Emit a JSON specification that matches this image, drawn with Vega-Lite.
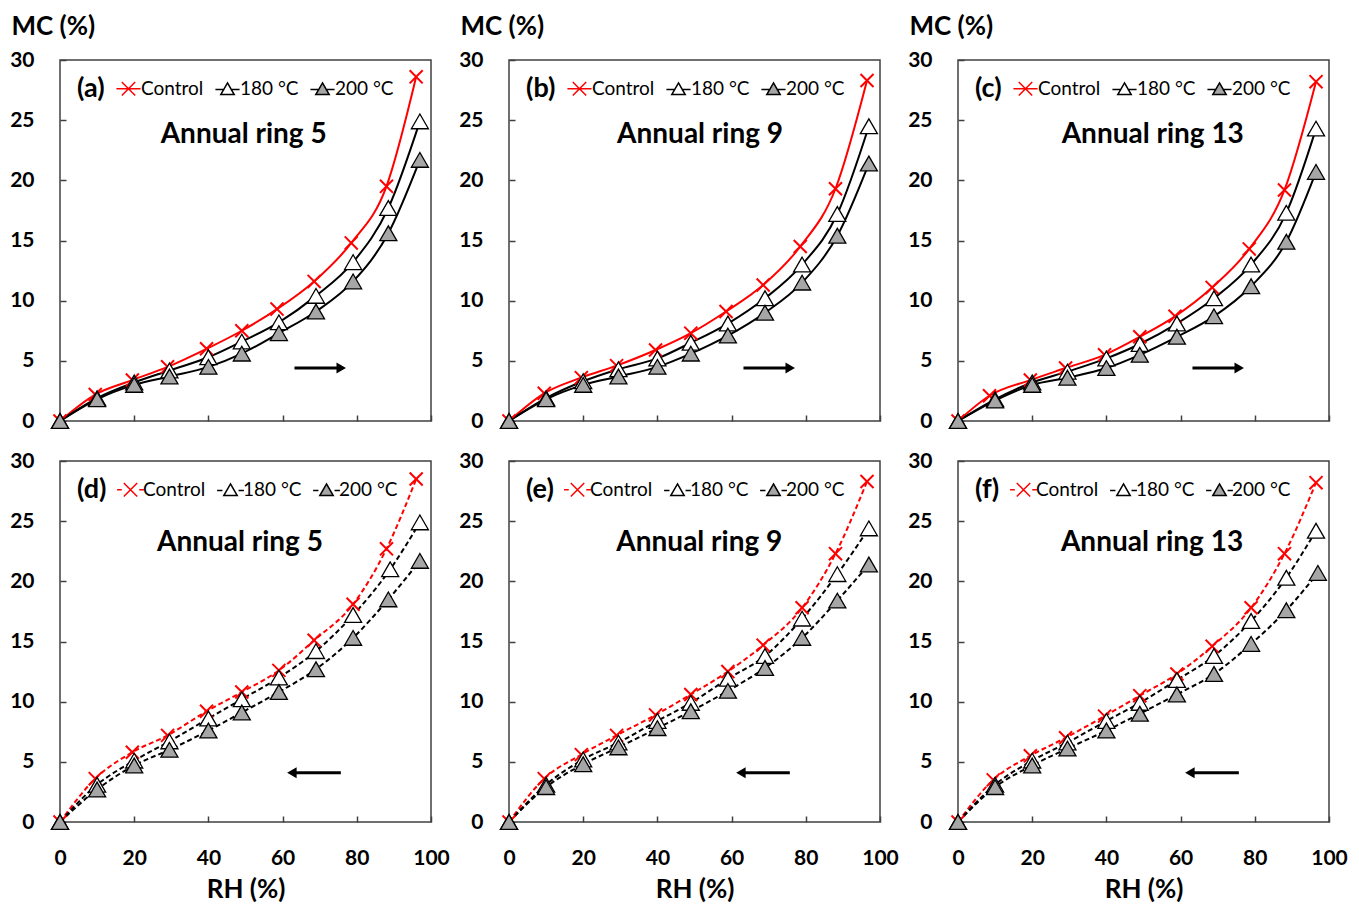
{
  "$schema": "https://vega.github.io/schema/vega-lite/v6.json",
  "padding": {"left": 8, "top": 12, "right": 5, "bottom": 5},
  "background": "white",
  "data": {"values": [
    {"panel":"a","series":"Control","rh":0,"mc":0},{"panel":"a","series":"Control","rh":9.5,"mc":2.2},{"panel":"a","series":"Control","rh":19.5,"mc":3.4},{"panel":"a","series":"Control","rh":29,"mc":4.5},{"panel":"a","series":"Control","rh":39.5,"mc":6.0},{"panel":"a","series":"Control","rh":49,"mc":7.5},{"panel":"a","series":"Control","rh":58.5,"mc":9.3},{"panel":"a","series":"Control","rh":68.5,"mc":11.6},{"panel":"a","series":"Control","rh":78.5,"mc":14.8},{"panel":"a","series":"Control","rh":88,"mc":19.5},{"panel":"a","series":"Control","rh":96,"mc":28.6},
    {"panel":"a","series":"180 °C","rh":0,"mc":0},{"panel":"a","series":"180 °C","rh":10,"mc":1.9},{"panel":"a","series":"180 °C","rh":20,"mc":3.2},{"panel":"a","series":"180 °C","rh":29.5,"mc":4.2},{"panel":"a","series":"180 °C","rh":40,"mc":5.3},{"panel":"a","series":"180 °C","rh":49,"mc":6.6},{"panel":"a","series":"180 °C","rh":59,"mc":8.2},{"panel":"a","series":"180 °C","rh":69,"mc":10.4},{"panel":"a","series":"180 °C","rh":79,"mc":13.2},{"panel":"a","series":"180 °C","rh":88.5,"mc":17.7},{"panel":"a","series":"180 °C","rh":97,"mc":24.9},
    {"panel":"a","series":"200 °C","rh":0,"mc":0},{"panel":"a","series":"200 °C","rh":10,"mc":1.8},{"panel":"a","series":"200 °C","rh":20,"mc":3.0},{"panel":"a","series":"200 °C","rh":29.5,"mc":3.7},{"panel":"a","series":"200 °C","rh":40,"mc":4.5},{"panel":"a","series":"200 °C","rh":49,"mc":5.6},{"panel":"a","series":"200 °C","rh":59,"mc":7.3},{"panel":"a","series":"200 °C","rh":69,"mc":9.1},{"panel":"a","series":"200 °C","rh":79,"mc":11.6},{"panel":"a","series":"200 °C","rh":88.5,"mc":15.6},{"panel":"a","series":"200 °C","rh":97,"mc":21.7},

    {"panel":"b","series":"Control","rh":0,"mc":0},{"panel":"b","series":"Control","rh":9.5,"mc":2.3},{"panel":"b","series":"Control","rh":19.5,"mc":3.6},{"panel":"b","series":"Control","rh":29,"mc":4.6},{"panel":"b","series":"Control","rh":39.5,"mc":5.9},{"panel":"b","series":"Control","rh":49,"mc":7.3},{"panel":"b","series":"Control","rh":58.5,"mc":9.1},{"panel":"b","series":"Control","rh":68.5,"mc":11.3},{"panel":"b","series":"Control","rh":78.5,"mc":14.5},{"panel":"b","series":"Control","rh":88,"mc":19.3},{"panel":"b","series":"Control","rh":96.5,"mc":28.3},
    {"panel":"b","series":"180 °C","rh":0,"mc":0},{"panel":"b","series":"180 °C","rh":10,"mc":1.9},{"panel":"b","series":"180 °C","rh":20,"mc":3.3},{"panel":"b","series":"180 °C","rh":29.5,"mc":4.3},{"panel":"b","series":"180 °C","rh":40,"mc":5.2},{"panel":"b","series":"180 °C","rh":49,"mc":6.5},{"panel":"b","series":"180 °C","rh":59,"mc":8.1},{"panel":"b","series":"180 °C","rh":69,"mc":10.2},{"panel":"b","series":"180 °C","rh":79,"mc":13.0},{"panel":"b","series":"180 °C","rh":88.5,"mc":17.2},{"panel":"b","series":"180 °C","rh":97,"mc":24.5},
    {"panel":"b","series":"200 °C","rh":0,"mc":0},{"panel":"b","series":"200 °C","rh":10,"mc":1.8},{"panel":"b","series":"200 °C","rh":20,"mc":3.0},{"panel":"b","series":"200 °C","rh":29.5,"mc":3.7},{"panel":"b","series":"200 °C","rh":40,"mc":4.5},{"panel":"b","series":"200 °C","rh":49,"mc":5.6},{"panel":"b","series":"200 °C","rh":59,"mc":7.1},{"panel":"b","series":"200 °C","rh":69,"mc":9.0},{"panel":"b","series":"200 °C","rh":79,"mc":11.5},{"panel":"b","series":"200 °C","rh":88.5,"mc":15.4},{"panel":"b","series":"200 °C","rh":97,"mc":21.4},

    {"panel":"c","series":"Control","rh":0,"mc":0},{"panel":"c","series":"Control","rh":8.5,"mc":2.1},{"panel":"c","series":"Control","rh":19.5,"mc":3.4},{"panel":"c","series":"Control","rh":29,"mc":4.4},{"panel":"c","series":"Control","rh":39.5,"mc":5.5},{"panel":"c","series":"Control","rh":49,"mc":7.0},{"panel":"c","series":"Control","rh":58.5,"mc":8.7},{"panel":"c","series":"Control","rh":68.5,"mc":11.1},{"panel":"c","series":"Control","rh":78.5,"mc":14.3},{"panel":"c","series":"Control","rh":88,"mc":19.2},{"panel":"c","series":"Control","rh":96.5,"mc":28.2},
    {"panel":"c","series":"180 °C","rh":0,"mc":0},{"panel":"c","series":"180 °C","rh":10,"mc":1.8},{"panel":"c","series":"180 °C","rh":20,"mc":3.2},{"panel":"c","series":"180 °C","rh":29.5,"mc":4.1},{"panel":"c","series":"180 °C","rh":40,"mc":5.2},{"panel":"c","series":"180 °C","rh":49,"mc":6.4},{"panel":"c","series":"180 °C","rh":59,"mc":8.1},{"panel":"c","series":"180 °C","rh":69,"mc":10.2},{"panel":"c","series":"180 °C","rh":79,"mc":13.0},{"panel":"c","series":"180 °C","rh":88.5,"mc":17.3},{"panel":"c","series":"180 °C","rh":96.5,"mc":24.3},
    {"panel":"c","series":"200 °C","rh":0,"mc":0},{"panel":"c","series":"200 °C","rh":10,"mc":1.7},{"panel":"c","series":"200 °C","rh":20,"mc":3.0},{"panel":"c","series":"200 °C","rh":29.5,"mc":3.6},{"panel":"c","series":"200 °C","rh":40,"mc":4.4},{"panel":"c","series":"200 °C","rh":49,"mc":5.5},{"panel":"c","series":"200 °C","rh":59,"mc":7.0},{"panel":"c","series":"200 °C","rh":69,"mc":8.7},{"panel":"c","series":"200 °C","rh":79,"mc":11.2},{"panel":"c","series":"200 °C","rh":88.5,"mc":14.9},{"panel":"c","series":"200 °C","rh":96.5,"mc":20.7},

    {"panel":"d","series":"Control","rh":0,"mc":0},{"panel":"d","series":"Control","rh":9.5,"mc":3.6},{"panel":"d","series":"Control","rh":19.5,"mc":5.8},{"panel":"d","series":"Control","rh":29,"mc":7.2},{"panel":"d","series":"Control","rh":39.5,"mc":9.2},{"panel":"d","series":"Control","rh":49,"mc":10.8},{"panel":"d","series":"Control","rh":59,"mc":12.6},{"panel":"d","series":"Control","rh":68.5,"mc":15.1},{"panel":"d","series":"Control","rh":79,"mc":18.1},{"panel":"d","series":"Control","rh":88,"mc":22.7},{"panel":"d","series":"Control","rh":96,"mc":28.5},
    {"panel":"d","series":"180 °C","rh":0,"mc":0},{"panel":"d","series":"180 °C","rh":10,"mc":3.1},{"panel":"d","series":"180 °C","rh":20,"mc":5.1},{"panel":"d","series":"180 °C","rh":29.5,"mc":6.7},{"panel":"d","series":"180 °C","rh":40,"mc":8.6},{"panel":"d","series":"180 °C","rh":49,"mc":10.2},{"panel":"d","series":"180 °C","rh":59,"mc":12.0},{"panel":"d","series":"180 °C","rh":69,"mc":14.2},{"panel":"d","series":"180 °C","rh":79,"mc":17.2},{"panel":"d","series":"180 °C","rh":89,"mc":21.0},{"panel":"d","series":"180 °C","rh":97,"mc":24.9},
    {"panel":"d","series":"200 °C","rh":0,"mc":0},{"panel":"d","series":"200 °C","rh":10,"mc":2.7},{"panel":"d","series":"200 °C","rh":20,"mc":4.7},{"panel":"d","series":"200 °C","rh":29.5,"mc":6.0},{"panel":"d","series":"200 °C","rh":40,"mc":7.6},{"panel":"d","series":"200 °C","rh":49,"mc":9.1},{"panel":"d","series":"200 °C","rh":59,"mc":10.8},{"panel":"d","series":"200 °C","rh":69,"mc":12.7},{"panel":"d","series":"200 °C","rh":79,"mc":15.3},{"panel":"d","series":"200 °C","rh":88.5,"mc":18.5},{"panel":"d","series":"200 °C","rh":97,"mc":21.7},

    {"panel":"e","series":"Control","rh":0,"mc":0},{"panel":"e","series":"Control","rh":9.5,"mc":3.6},{"panel":"e","series":"Control","rh":19.5,"mc":5.6},{"panel":"e","series":"Control","rh":29,"mc":7.2},{"panel":"e","series":"Control","rh":39.5,"mc":8.9},{"panel":"e","series":"Control","rh":49,"mc":10.6},{"panel":"e","series":"Control","rh":59,"mc":12.5},{"panel":"e","series":"Control","rh":68.5,"mc":14.7},{"panel":"e","series":"Control","rh":79,"mc":17.8},{"panel":"e","series":"Control","rh":88,"mc":22.3},{"panel":"e","series":"Control","rh":96.5,"mc":28.3},
    {"panel":"e","series":"180 °C","rh":0,"mc":0},{"panel":"e","series":"180 °C","rh":10,"mc":3.1},{"panel":"e","series":"180 °C","rh":20,"mc":5.2},{"panel":"e","series":"180 °C","rh":29.5,"mc":6.6},{"panel":"e","series":"180 °C","rh":40,"mc":8.4},{"panel":"e","series":"180 °C","rh":49,"mc":9.9},{"panel":"e","series":"180 °C","rh":59,"mc":11.9},{"panel":"e","series":"180 °C","rh":69,"mc":13.8},{"panel":"e","series":"180 °C","rh":79,"mc":16.9},{"panel":"e","series":"180 °C","rh":88.5,"mc":20.6},{"panel":"e","series":"180 °C","rh":97,"mc":24.4},
    {"panel":"e","series":"200 °C","rh":0,"mc":0},{"panel":"e","series":"200 °C","rh":10,"mc":2.9},{"panel":"e","series":"200 °C","rh":20,"mc":4.8},{"panel":"e","series":"200 °C","rh":29.5,"mc":6.2},{"panel":"e","series":"200 °C","rh":40,"mc":7.8},{"panel":"e","series":"200 °C","rh":49,"mc":9.2},{"panel":"e","series":"200 °C","rh":59,"mc":10.9},{"panel":"e","series":"200 °C","rh":69,"mc":12.8},{"panel":"e","series":"200 °C","rh":79,"mc":15.3},{"panel":"e","series":"200 °C","rh":88.5,"mc":18.4},{"panel":"e","series":"200 °C","rh":97,"mc":21.4},

    {"panel":"f","series":"Control","rh":0,"mc":0},{"panel":"f","series":"Control","rh":9.5,"mc":3.5},{"panel":"f","series":"Control","rh":19.5,"mc":5.5},{"panel":"f","series":"Control","rh":29,"mc":7.0},{"panel":"f","series":"Control","rh":39.5,"mc":8.8},{"panel":"f","series":"Control","rh":49,"mc":10.5},{"panel":"f","series":"Control","rh":59,"mc":12.3},{"panel":"f","series":"Control","rh":68.5,"mc":14.6},{"panel":"f","series":"Control","rh":79,"mc":17.8},{"panel":"f","series":"Control","rh":88,"mc":22.3},{"panel":"f","series":"Control","rh":96.5,"mc":28.2},
    {"panel":"f","series":"180 °C","rh":0,"mc":0},{"panel":"f","series":"180 °C","rh":10,"mc":3.1},{"panel":"f","series":"180 °C","rh":20,"mc":5.1},{"panel":"f","series":"180 °C","rh":29.5,"mc":6.6},{"panel":"f","series":"180 °C","rh":40,"mc":8.4},{"panel":"f","series":"180 °C","rh":49,"mc":9.9},{"panel":"f","series":"180 °C","rh":59,"mc":11.8},{"panel":"f","series":"180 °C","rh":69,"mc":13.8},{"panel":"f","series":"180 °C","rh":79,"mc":16.7},{"panel":"f","series":"180 °C","rh":88.5,"mc":20.3},{"panel":"f","series":"180 °C","rh":96.5,"mc":24.2},
    {"panel":"f","series":"200 °C","rh":0,"mc":0},{"panel":"f","series":"200 °C","rh":10,"mc":2.9},{"panel":"f","series":"200 °C","rh":20,"mc":4.7},{"panel":"f","series":"200 °C","rh":29.5,"mc":6.1},{"panel":"f","series":"200 °C","rh":40,"mc":7.6},{"panel":"f","series":"200 °C","rh":49,"mc":9.0},{"panel":"f","series":"200 °C","rh":59,"mc":10.6},{"panel":"f","series":"200 °C","rh":69,"mc":12.3},{"panel":"f","series":"200 °C","rh":79,"mc":14.8},{"panel":"f","series":"200 °C","rh":88.5,"mc":17.6},{"panel":"f","series":"200 °C","rh":97,"mc":20.7}
  ]},
  "columns": 3,
  "bounds": "flush",
  "align": "each",
  "spacing": {"column": 78, "row": 40},
  "resolve": {
    "scale": {"shape": "independent", "fill": "independent", "stroke": "independent", "x": "independent", "y": "independent"},
    "legend": {"shape": "independent", "fill": "independent", "stroke": "independent"}
  },
  "concat": [
    {
      "width": 371, "height": 361,
      "layer": [
        {"transform": [{"filter": "datum.panel === 'a'"}],
         "mark": {"type": "line", "interpolate": "monotone", "strokeWidth": 2},
         "encoding": {
           "x": {"field": "rh", "type": "quantitative", "scale": {"domain": [0, 100], "nice": false}, "axis": {"labels": false, "title": null, "values": [0, 10, 20, 30, 40, 50, 60, 70, 80, 90, 100]}},
           "y": {"field": "mc", "type": "quantitative", "scale": {"domain": [0, 30], "nice": false}, "axis": {"title": "MC (%)", "values": [0, 2.5, 5, 7.5, 10, 12.5, 15, 17.5, 20, 22.5, 25, 27.5, 30], "labelExpr": "datum.value % 5 === 0 ? datum.label : ''", "labelOverlap": false}},
           "detail": {"field": "series"},
           "stroke": {"condition": {"test": "datum.series === 'Control'", "value": "#ff0000"}, "value": "#000000"}
         }},
        {"transform": [{"filter": "datum.panel === 'a'"}],
         "mark": {"type": "point", "filled": true, "opacity": 0},
         "encoding": {
           "x": {"field": "rh", "type": "quantitative"},
           "y": {"field": "mc", "type": "quantitative"},
           "shape": {"field": "series", "type": "nominal", "scale": {"domain": ["Control", "180 °C", "200 °C"], "range": ["M-1.8,0L1.8,0M-1,-1L1,1M-1,1L1,-1", "M-1.8,0.1L-0.45,0.1M0.45,0.1L1.8,0.1M0,-0.87L1,0.87L-1,0.87Z", "M-1.8,0.1L-0.45,0.1M0.45,0.1L1.8,0.1M0,-0.87L1,0.87L-1,0.87Z"]}, "legend": {"title": "(a)"}},
           "fill": {"field": "series", "type": "nominal", "scale": {"domain": ["Control", "180 °C", "200 °C"], "range": ["transparent", "#ffffff", "#a6a6a6"]}, "legend": {"title": "(a)"}},
           "stroke": {"field": "series", "type": "nominal", "scale": {"domain": ["Control", "180 °C", "200 °C"], "range": ["#ff0000", "#000000", "#000000"]}, "legend": {"title": "(a)"}}
         }},
        {"transform": [{"filter": "datum.panel === 'a'"}],
         "mark": {"type": "point", "filled": true, "opacity": 1},
         "encoding": {
           "x": {"field": "rh", "type": "quantitative"},
           "y": {"field": "mc", "type": "quantitative"},
           "shape": {"condition": {"test": "datum.series === 'Control'", "value": "M-1,-1L1,1M-1,1L1,-1"}, "value": "triangle-up"},
           "fill": {"condition": [{"test": "datum.series === 'Control'", "value": "transparent"}, {"test": "datum.series === '200 °C'", "value": "#a6a6a6"}], "value": "#ffffff"},
           "stroke": {"condition": {"test": "datum.series === 'Control'", "value": "#ff0000"}, "value": "#000000"},
           "size": {"condition": {"test": "datum.series === 'Control'", "value": 170}, "value": 290},
           "strokeWidth": {"condition": {"test": "datum.series === 'Control'", "value": 2}, "value": 1.3}
         }},
        {"data": {"values": [{"label": "Annual ring 5"}]},
         "mark": {"type": "text", "fontSize": 28, "fontWeight": "bold", "color": "black"},
         "encoding": {"x": {"datum": 49.5}, "y": {"datum": 23.8}, "text": {"field": "label"}}},
        {"data": {"values": [{}]},
         "mark": {"type": "rule", "strokeWidth": 3, "color": "black"},
         "encoding": {"x": {"datum": 63.2}, "x2": {"datum": 75.5}, "y": {"datum": 4.4}}},
        {"data": {"values": [{}]},
         "mark": {"type": "point", "shape": "triangle-right", "filled": true, "color": "black", "size": 120, "opacity": 1},
         "encoding": {"x": {"datum": 75.8}, "y": {"datum": 4.4}}}
      ]
    },
    {
      "width": 371, "height": 361,
      "layer": [
        {"transform": [{"filter": "datum.panel === 'b'"}],
         "mark": {"type": "line", "interpolate": "monotone", "strokeWidth": 2},
         "encoding": {
           "x": {"field": "rh", "type": "quantitative", "scale": {"domain": [0, 100], "nice": false}, "axis": {"labels": false, "title": null, "values": [0, 10, 20, 30, 40, 50, 60, 70, 80, 90, 100]}},
           "y": {"field": "mc", "type": "quantitative", "scale": {"domain": [0, 30], "nice": false}, "axis": {"title": "MC (%)", "values": [0, 2.5, 5, 7.5, 10, 12.5, 15, 17.5, 20, 22.5, 25, 27.5, 30], "labelExpr": "datum.value % 5 === 0 ? datum.label : ''", "labelOverlap": false}},
           "detail": {"field": "series"},
           "stroke": {"condition": {"test": "datum.series === 'Control'", "value": "#ff0000"}, "value": "#000000"}
         }},
        {"transform": [{"filter": "datum.panel === 'b'"}],
         "mark": {"type": "point", "filled": true, "opacity": 0},
         "encoding": {
           "x": {"field": "rh", "type": "quantitative"},
           "y": {"field": "mc", "type": "quantitative"},
           "shape": {"field": "series", "type": "nominal", "scale": {"domain": ["Control", "180 °C", "200 °C"], "range": ["M-1.8,0L1.8,0M-1,-1L1,1M-1,1L1,-1", "M-1.8,0.1L-0.45,0.1M0.45,0.1L1.8,0.1M0,-0.87L1,0.87L-1,0.87Z", "M-1.8,0.1L-0.45,0.1M0.45,0.1L1.8,0.1M0,-0.87L1,0.87L-1,0.87Z"]}, "legend": {"title": "(b)"}},
           "fill": {"field": "series", "type": "nominal", "scale": {"domain": ["Control", "180 °C", "200 °C"], "range": ["transparent", "#ffffff", "#a6a6a6"]}, "legend": {"title": "(b)"}},
           "stroke": {"field": "series", "type": "nominal", "scale": {"domain": ["Control", "180 °C", "200 °C"], "range": ["#ff0000", "#000000", "#000000"]}, "legend": {"title": "(b)"}}
         }},
        {"transform": [{"filter": "datum.panel === 'b'"}],
         "mark": {"type": "point", "filled": true, "opacity": 1},
         "encoding": {
           "x": {"field": "rh", "type": "quantitative"},
           "y": {"field": "mc", "type": "quantitative"},
           "shape": {"condition": {"test": "datum.series === 'Control'", "value": "M-1,-1L1,1M-1,1L1,-1"}, "value": "triangle-up"},
           "fill": {"condition": [{"test": "datum.series === 'Control'", "value": "transparent"}, {"test": "datum.series === '200 °C'", "value": "#a6a6a6"}], "value": "#ffffff"},
           "stroke": {"condition": {"test": "datum.series === 'Control'", "value": "#ff0000"}, "value": "#000000"},
           "size": {"condition": {"test": "datum.series === 'Control'", "value": 170}, "value": 290},
           "strokeWidth": {"condition": {"test": "datum.series === 'Control'", "value": 2}, "value": 1.3}
         }},
        {"data": {"values": [{"label": "Annual ring 9"}]},
         "mark": {"type": "text", "fontSize": 28, "fontWeight": "bold", "color": "black"},
         "encoding": {"x": {"datum": 51.5}, "y": {"datum": 23.8}, "text": {"field": "label"}}},
        {"data": {"values": [{}]},
         "mark": {"type": "rule", "strokeWidth": 3, "color": "black"},
         "encoding": {"x": {"datum": 63.2}, "x2": {"datum": 75.5}, "y": {"datum": 4.4}}},
        {"data": {"values": [{}]},
         "mark": {"type": "point", "shape": "triangle-right", "filled": true, "color": "black", "size": 120, "opacity": 1},
         "encoding": {"x": {"datum": 75.8}, "y": {"datum": 4.4}}}
      ]
    },
    {
      "width": 371, "height": 361,
      "layer": [
        {"transform": [{"filter": "datum.panel === 'c'"}],
         "mark": {"type": "line", "interpolate": "monotone", "strokeWidth": 2},
         "encoding": {
           "x": {"field": "rh", "type": "quantitative", "scale": {"domain": [0, 100], "nice": false}, "axis": {"labels": false, "title": null, "values": [0, 10, 20, 30, 40, 50, 60, 70, 80, 90, 100]}},
           "y": {"field": "mc", "type": "quantitative", "scale": {"domain": [0, 30], "nice": false}, "axis": {"title": "MC (%)", "values": [0, 2.5, 5, 7.5, 10, 12.5, 15, 17.5, 20, 22.5, 25, 27.5, 30], "labelExpr": "datum.value % 5 === 0 ? datum.label : ''", "labelOverlap": false}},
           "detail": {"field": "series"},
           "stroke": {"condition": {"test": "datum.series === 'Control'", "value": "#ff0000"}, "value": "#000000"}
         }},
        {"transform": [{"filter": "datum.panel === 'c'"}],
         "mark": {"type": "point", "filled": true, "opacity": 0},
         "encoding": {
           "x": {"field": "rh", "type": "quantitative"},
           "y": {"field": "mc", "type": "quantitative"},
           "shape": {"field": "series", "type": "nominal", "scale": {"domain": ["Control", "180 °C", "200 °C"], "range": ["M-1.8,0L1.8,0M-1,-1L1,1M-1,1L1,-1", "M-1.8,0.1L-0.45,0.1M0.45,0.1L1.8,0.1M0,-0.87L1,0.87L-1,0.87Z", "M-1.8,0.1L-0.45,0.1M0.45,0.1L1.8,0.1M0,-0.87L1,0.87L-1,0.87Z"]}, "legend": {"title": "(c)"}},
           "fill": {"field": "series", "type": "nominal", "scale": {"domain": ["Control", "180 °C", "200 °C"], "range": ["transparent", "#ffffff", "#a6a6a6"]}, "legend": {"title": "(c)"}},
           "stroke": {"field": "series", "type": "nominal", "scale": {"domain": ["Control", "180 °C", "200 °C"], "range": ["#ff0000", "#000000", "#000000"]}, "legend": {"title": "(c)"}}
         }},
        {"transform": [{"filter": "datum.panel === 'c'"}],
         "mark": {"type": "point", "filled": true, "opacity": 1},
         "encoding": {
           "x": {"field": "rh", "type": "quantitative"},
           "y": {"field": "mc", "type": "quantitative"},
           "shape": {"condition": {"test": "datum.series === 'Control'", "value": "M-1,-1L1,1M-1,1L1,-1"}, "value": "triangle-up"},
           "fill": {"condition": [{"test": "datum.series === 'Control'", "value": "transparent"}, {"test": "datum.series === '200 °C'", "value": "#a6a6a6"}], "value": "#ffffff"},
           "stroke": {"condition": {"test": "datum.series === 'Control'", "value": "#ff0000"}, "value": "#000000"},
           "size": {"condition": {"test": "datum.series === 'Control'", "value": 170}, "value": 290},
           "strokeWidth": {"condition": {"test": "datum.series === 'Control'", "value": 2}, "value": 1.3}
         }},
        {"data": {"values": [{"label": "Annual ring 13"}]},
         "mark": {"type": "text", "fontSize": 28, "fontWeight": "bold", "color": "black"},
         "encoding": {"x": {"datum": 52.5}, "y": {"datum": 23.8}, "text": {"field": "label"}}},
        {"data": {"values": [{}]},
         "mark": {"type": "rule", "strokeWidth": 3, "color": "black"},
         "encoding": {"x": {"datum": 63.2}, "x2": {"datum": 75.5}, "y": {"datum": 4.4}}},
        {"data": {"values": [{}]},
         "mark": {"type": "point", "shape": "triangle-right", "filled": true, "color": "black", "size": 120, "opacity": 1},
         "encoding": {"x": {"datum": 75.8}, "y": {"datum": 4.4}}}
      ]
    },
    {
      "width": 371, "height": 361,
      "layer": [
        {"transform": [{"filter": "datum.panel === 'd'"}],
         "mark": {"type": "line", "interpolate": "monotone", "strokeWidth": 2, "strokeDash": [5, 3]},
         "encoding": {
           "x": {"field": "rh", "type": "quantitative", "scale": {"domain": [0, 100], "nice": false}, "axis": {"title": "RH (%)", "values": [0, 10, 20, 30, 40, 50, 60, 70, 80, 90, 100], "labelExpr": "datum.value % 20 === 0 ? datum.label : ''", "labelOverlap": false}},
           "y": {"field": "mc", "type": "quantitative", "scale": {"domain": [0, 30], "nice": false}, "axis": {"title": null, "values": [0, 2.5, 5, 7.5, 10, 12.5, 15, 17.5, 20, 22.5, 25, 27.5, 30], "labelExpr": "datum.value % 5 === 0 ? datum.label : ''", "labelOverlap": false}},
           "detail": {"field": "series"},
           "stroke": {"condition": {"test": "datum.series === 'Control'", "value": "#ff0000"}, "value": "#000000"}
         }},
        {"transform": [{"filter": "datum.panel === 'd'"}],
         "mark": {"type": "point", "filled": true, "opacity": 0},
         "encoding": {
           "x": {"field": "rh", "type": "quantitative"},
           "y": {"field": "mc", "type": "quantitative"},
           "shape": {"field": "series", "type": "nominal", "scale": {"domain": ["Control", "180 °C", "200 °C"], "range": ["M-2,0L-1.3,0M1.3,0L2,0M-1,-1L1,1M-1,1L1,-1", "M-2,0.1L-1.2,0.1M1.2,0.1L2,0.1M0,-0.87L1,0.87L-1,0.87Z", "M-2,0.1L-1.2,0.1M1.2,0.1L2,0.1M0,-0.87L1,0.87L-1,0.87Z"]}, "legend": {"title": "(d)"}},
           "fill": {"field": "series", "type": "nominal", "scale": {"domain": ["Control", "180 °C", "200 °C"], "range": ["transparent", "#ffffff", "#a6a6a6"]}, "legend": {"title": "(d)"}},
           "stroke": {"field": "series", "type": "nominal", "scale": {"domain": ["Control", "180 °C", "200 °C"], "range": ["#ff0000", "#000000", "#000000"]}, "legend": {"title": "(d)"}}
         }},
        {"transform": [{"filter": "datum.panel === 'd'"}],
         "mark": {"type": "point", "filled": true, "opacity": 1},
         "encoding": {
           "x": {"field": "rh", "type": "quantitative"},
           "y": {"field": "mc", "type": "quantitative"},
           "shape": {"condition": {"test": "datum.series === 'Control'", "value": "M-1,-1L1,1M-1,1L1,-1"}, "value": "triangle-up"},
           "fill": {"condition": [{"test": "datum.series === 'Control'", "value": "transparent"}, {"test": "datum.series === '200 °C'", "value": "#a6a6a6"}], "value": "#ffffff"},
           "stroke": {"condition": {"test": "datum.series === 'Control'", "value": "#ff0000"}, "value": "#000000"},
           "size": {"condition": {"test": "datum.series === 'Control'", "value": 170}, "value": 290},
           "strokeWidth": {"condition": {"test": "datum.series === 'Control'", "value": 2}, "value": 1.3}
         }},
        {"data": {"values": [{"label": "Annual ring 5"}]},
         "mark": {"type": "text", "fontSize": 28, "fontWeight": "bold", "color": "black"},
         "encoding": {"x": {"datum": 48.5}, "y": {"datum": 23.2}, "text": {"field": "label"}}},
        {"data": {"values": [{}]},
         "mark": {"type": "rule", "strokeWidth": 3, "color": "black"},
         "encoding": {"x": {"datum": 62.8}, "x2": {"datum": 75.7}, "y": {"datum": 4.1}}},
        {"data": {"values": [{}]},
         "mark": {"type": "point", "shape": "triangle-left", "filled": true, "color": "black", "size": 120, "opacity": 1},
         "encoding": {"x": {"datum": 62.5}, "y": {"datum": 4.1}}}
      ]
    },
    {
      "width": 371, "height": 361,
      "layer": [
        {"transform": [{"filter": "datum.panel === 'e'"}],
         "mark": {"type": "line", "interpolate": "monotone", "strokeWidth": 2, "strokeDash": [5, 3]},
         "encoding": {
           "x": {"field": "rh", "type": "quantitative", "scale": {"domain": [0, 100], "nice": false}, "axis": {"title": "RH (%)", "values": [0, 10, 20, 30, 40, 50, 60, 70, 80, 90, 100], "labelExpr": "datum.value % 20 === 0 ? datum.label : ''", "labelOverlap": false}},
           "y": {"field": "mc", "type": "quantitative", "scale": {"domain": [0, 30], "nice": false}, "axis": {"title": null, "values": [0, 2.5, 5, 7.5, 10, 12.5, 15, 17.5, 20, 22.5, 25, 27.5, 30], "labelExpr": "datum.value % 5 === 0 ? datum.label : ''", "labelOverlap": false}},
           "detail": {"field": "series"},
           "stroke": {"condition": {"test": "datum.series === 'Control'", "value": "#ff0000"}, "value": "#000000"}
         }},
        {"transform": [{"filter": "datum.panel === 'e'"}],
         "mark": {"type": "point", "filled": true, "opacity": 0},
         "encoding": {
           "x": {"field": "rh", "type": "quantitative"},
           "y": {"field": "mc", "type": "quantitative"},
           "shape": {"field": "series", "type": "nominal", "scale": {"domain": ["Control", "180 °C", "200 °C"], "range": ["M-2,0L-1.3,0M1.3,0L2,0M-1,-1L1,1M-1,1L1,-1", "M-2,0.1L-1.2,0.1M1.2,0.1L2,0.1M0,-0.87L1,0.87L-1,0.87Z", "M-2,0.1L-1.2,0.1M1.2,0.1L2,0.1M0,-0.87L1,0.87L-1,0.87Z"]}, "legend": {"title": "(e)"}},
           "fill": {"field": "series", "type": "nominal", "scale": {"domain": ["Control", "180 °C", "200 °C"], "range": ["transparent", "#ffffff", "#a6a6a6"]}, "legend": {"title": "(e)"}},
           "stroke": {"field": "series", "type": "nominal", "scale": {"domain": ["Control", "180 °C", "200 °C"], "range": ["#ff0000", "#000000", "#000000"]}, "legend": {"title": "(e)"}}
         }},
        {"transform": [{"filter": "datum.panel === 'e'"}],
         "mark": {"type": "point", "filled": true, "opacity": 1},
         "encoding": {
           "x": {"field": "rh", "type": "quantitative"},
           "y": {"field": "mc", "type": "quantitative"},
           "shape": {"condition": {"test": "datum.series === 'Control'", "value": "M-1,-1L1,1M-1,1L1,-1"}, "value": "triangle-up"},
           "fill": {"condition": [{"test": "datum.series === 'Control'", "value": "transparent"}, {"test": "datum.series === '200 °C'", "value": "#a6a6a6"}], "value": "#ffffff"},
           "stroke": {"condition": {"test": "datum.series === 'Control'", "value": "#ff0000"}, "value": "#000000"},
           "size": {"condition": {"test": "datum.series === 'Control'", "value": 170}, "value": 290},
           "strokeWidth": {"condition": {"test": "datum.series === 'Control'", "value": 2}, "value": 1.3}
         }},
        {"data": {"values": [{"label": "Annual ring 9"}]},
         "mark": {"type": "text", "fontSize": 28, "fontWeight": "bold", "color": "black"},
         "encoding": {"x": {"datum": 51.3}, "y": {"datum": 23.2}, "text": {"field": "label"}}},
        {"data": {"values": [{}]},
         "mark": {"type": "rule", "strokeWidth": 3, "color": "black"},
         "encoding": {"x": {"datum": 62.8}, "x2": {"datum": 75.7}, "y": {"datum": 4.1}}},
        {"data": {"values": [{}]},
         "mark": {"type": "point", "shape": "triangle-left", "filled": true, "color": "black", "size": 120, "opacity": 1},
         "encoding": {"x": {"datum": 62.5}, "y": {"datum": 4.1}}}
      ]
    },
    {
      "width": 371, "height": 361,
      "layer": [
        {"transform": [{"filter": "datum.panel === 'f'"}],
         "mark": {"type": "line", "interpolate": "monotone", "strokeWidth": 2, "strokeDash": [5, 3]},
         "encoding": {
           "x": {"field": "rh", "type": "quantitative", "scale": {"domain": [0, 100], "nice": false}, "axis": {"title": "RH (%)", "values": [0, 10, 20, 30, 40, 50, 60, 70, 80, 90, 100], "labelExpr": "datum.value % 20 === 0 ? datum.label : ''", "labelOverlap": false}},
           "y": {"field": "mc", "type": "quantitative", "scale": {"domain": [0, 30], "nice": false}, "axis": {"title": null, "values": [0, 2.5, 5, 7.5, 10, 12.5, 15, 17.5, 20, 22.5, 25, 27.5, 30], "labelExpr": "datum.value % 5 === 0 ? datum.label : ''", "labelOverlap": false}},
           "detail": {"field": "series"},
           "stroke": {"condition": {"test": "datum.series === 'Control'", "value": "#ff0000"}, "value": "#000000"}
         }},
        {"transform": [{"filter": "datum.panel === 'f'"}],
         "mark": {"type": "point", "filled": true, "opacity": 0},
         "encoding": {
           "x": {"field": "rh", "type": "quantitative"},
           "y": {"field": "mc", "type": "quantitative"},
           "shape": {"field": "series", "type": "nominal", "scale": {"domain": ["Control", "180 °C", "200 °C"], "range": ["M-2,0L-1.3,0M1.3,0L2,0M-1,-1L1,1M-1,1L1,-1", "M-2,0.1L-1.2,0.1M1.2,0.1L2,0.1M0,-0.87L1,0.87L-1,0.87Z", "M-2,0.1L-1.2,0.1M1.2,0.1L2,0.1M0,-0.87L1,0.87L-1,0.87Z"]}, "legend": {"title": "(f)"}},
           "fill": {"field": "series", "type": "nominal", "scale": {"domain": ["Control", "180 °C", "200 °C"], "range": ["transparent", "#ffffff", "#a6a6a6"]}, "legend": {"title": "(f)"}},
           "stroke": {"field": "series", "type": "nominal", "scale": {"domain": ["Control", "180 °C", "200 °C"], "range": ["#ff0000", "#000000", "#000000"]}, "legend": {"title": "(f)"}}
         }},
        {"transform": [{"filter": "datum.panel === 'f'"}],
         "mark": {"type": "point", "filled": true, "opacity": 1},
         "encoding": {
           "x": {"field": "rh", "type": "quantitative"},
           "y": {"field": "mc", "type": "quantitative"},
           "shape": {"condition": {"test": "datum.series === 'Control'", "value": "M-1,-1L1,1M-1,1L1,-1"}, "value": "triangle-up"},
           "fill": {"condition": [{"test": "datum.series === 'Control'", "value": "transparent"}, {"test": "datum.series === '200 °C'", "value": "#a6a6a6"}], "value": "#ffffff"},
           "stroke": {"condition": {"test": "datum.series === 'Control'", "value": "#ff0000"}, "value": "#000000"},
           "size": {"condition": {"test": "datum.series === 'Control'", "value": 170}, "value": 290},
           "strokeWidth": {"condition": {"test": "datum.series === 'Control'", "value": 2}, "value": 1.3}
         }},
        {"data": {"values": [{"label": "Annual ring 13"}]},
         "mark": {"type": "text", "fontSize": 28, "fontWeight": "bold", "color": "black"},
         "encoding": {"x": {"datum": 52.3}, "y": {"datum": 23.2}, "text": {"field": "label"}}},
        {"data": {"values": [{}]},
         "mark": {"type": "rule", "strokeWidth": 3, "color": "black"},
         "encoding": {"x": {"datum": 62.8}, "x2": {"datum": 75.7}, "y": {"datum": 4.1}}},
        {"data": {"values": [{}]},
         "mark": {"type": "point", "shape": "triangle-left", "filled": true, "color": "black", "size": 120, "opacity": 1},
         "encoding": {"x": {"datum": 62.5}, "y": {"datum": 4.1}}}
      ]
    }
  ],
  "config": {
    "font": "Lato",
    "view": {"stroke": "#404040", "strokeWidth": 1.5},
    "axis": {
      "grid": false, "domain": false,
      "tickSize": -6, "tickColor": "#404040", "tickWidth": 1.5,
      "labelFontSize": 21, "labelFontWeight": "bold", "labelColor": "black",
      "labelFlush": false,
      "titleFontSize": 26, "titleFontWeight": "bold", "titleColor": "black"
    },
    "axisY": {
      "labelPadding": 32,
      "titleAngle": 0, "titleAlign": "left", "titleBaseline": "middle", "titleX": -49, "titleY": -34
    },
    "axisX": {
      "labelPadding": 31,
      "titlePadding": 8
    },
    "legend": {
      "orient": "none", "legendX": 17, "legendY": 19, "direction": "horizontal", "padding": 0,
      "titleOrient": "left", "titleFontSize": 27, "titleFontWeight": "bold", "titleColor": "black", "titlePadding": 14,
      "labelFontSize": 19, "labelColor": "black", "labelOffset": 3,
      "symbolSize": 180, "symbolStrokeWidth": 1.5, "symbolOpacity": 1, "columnPadding": 8
    }
  }
}
